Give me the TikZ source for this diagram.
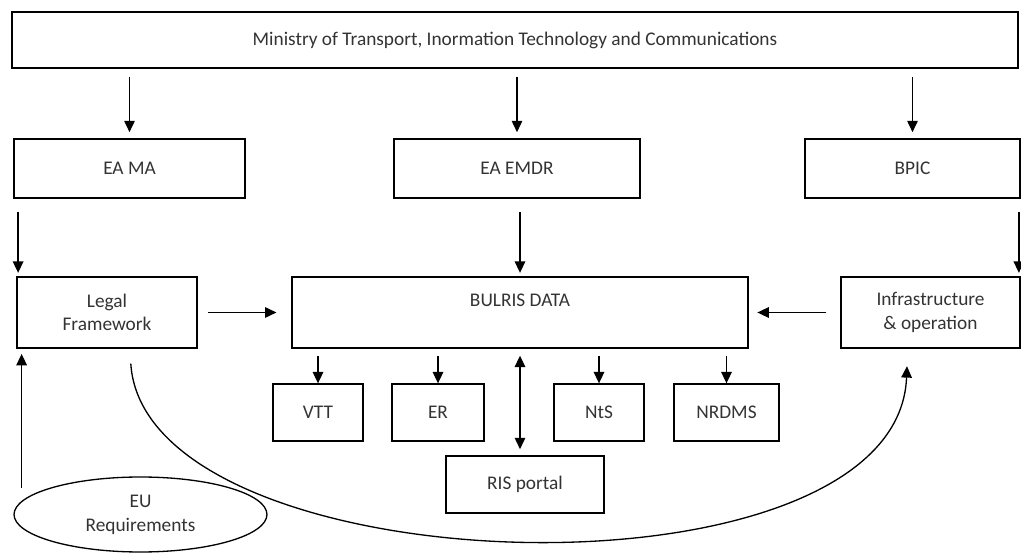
\documentclass[tikz,border=0pt]{standalone}
\usepackage{fontspec}
\setmainfont{Carlito}
\usetikzlibrary{arrows.meta, positioning, shapes.geometric, calc}
\tikzset{
  rect/.style = {
    draw=black,
    rectangle,
    line width=.75pt,
    align=center,
    text=black!80,
    font=\fontsize{11}{13.5}\selectfont,
    minimum height=1.18cm,
  },
  oval/.style = {
    rect,
    ellipse,
    inner sep=0pt,
  },
  has/.style = {
    -{Triangle[length=6.5pt, width=6pt]},
    line width=.75pt,
  },
  mutual/.style = {
    {Triangle[length=6.5pt, width=6pt]}-{Triangle[length=6.5pt, width=6pt]},
    line width=.75pt,
  },
}

\begin{document}
\begin{tikzpicture}[x=0.02cm, y=-0.02cm]
\useasboundingbox (0,0) rectangle (1021,553);

% top level
\node(Ministry)[rect, minimum width=20.12cm, minimum height=1.12cm] at (515,40)
  {Ministry of Transport, Inormation Technology and Communications};

% agencies
\node(EAMA)[rect, minimum width=4.62cm] at (129.5,168.5) {EA MA};
\node(EAEMDR)[rect, minimum width=4.92cm] at (517,168.5) {EA EMDR};
\node(BPIC)[rect, minimum width=4.3cm] at (912.5,168.5) {BPIC};

\draw[has, shorten <=5pt, shorten >=3.5pt] (EAMA.north |- Ministry.south) -- (EAMA.north);
\draw[has, shorten <=5pt, shorten >=3.5pt] (EAEMDR.north |- Ministry.south) -- (EAEMDR.north);
\draw[has, shorten <=5pt, shorten >=3.5pt] (BPIC.north |- Ministry.south) -- (BPIC.north);

% middle row
\node(Legal)[rect, minimum width=3.6cm, minimum height=1.42cm] at (107,312.5) {Legal\\Framework};
\node(Bulris)[rect, minimum width=9.12cm, minimum height=1.42cm] at (520,312.5) {BULRIS DATA\\~};
\node(Infra)[rect, minimum width=3.58cm, minimum height=1.42cm] at (930.5,312.5) {Infrastructure\\\& operation};

\draw[has, shorten <=7.5pt, shorten >=2pt] ([xshift=1pt]Legal.north west |- EAMA.south) -- ([xshift=1pt]Legal.north west);
\draw[has, shorten <=7.5pt, shorten >=2pt] (Bulris.north |- EAEMDR.south) -- (Bulris.north);
\draw[has, shorten <=7.5pt, shorten >=2pt] ([xshift=-1pt]Infra.north east |- BPIC.south) -- ([xshift=-1pt]Infra.north east);

\draw[has, shorten <=6pt, shorten >=8.5pt] (Legal) -- (Bulris);
\draw[has, shorten <=8pt, shorten >=5pt] (Infra) -- (Bulris);

% data services
\node(VTT)[rect, minimum width=1.8cm, minimum height=1.14cm] at (318,412.5) {VTT};
\node(ER)[rect, minimum width=1.84cm, minimum height=1.14cm] at (438,412.5) {ER};
\node(NtS)[rect, minimum width=1.8cm, minimum height=1.14cm] at (599,412.5) {NtS};
\node(NRDMS)[rect, minimum width=2.1cm, minimum height=1.14cm] at (726.5,412.5) {NRDMS};
\node(Portal)[rect, minimum width=3.16cm, minimum height=1.14cm] at (525,484.5) {RIS portal};

\foreach \s in {VTT, ER, NtS, NRDMS}
  \draw[has, shorten <=4pt] (\s.north |- Bulris.south) -- (\s.north);
\draw[mutual, shorten <=4pt, shorten >=3.5pt] (Bulris.south) -- (Bulris.south |- Portal.north);

% requirements
\node(EU)[oval, minimum width=5.06cm, minimum height=1.5cm] at (140.5,514.5) {EU\\Requirements};
\draw[has, shorten >=3pt] ([xshift=3pt]Legal.south west |- EU.north) ++(0,12) -- ([xshift=3pt]Legal.south west);

\draw[has, shorten <=8.5pt, shorten >=10pt]
  ([xshift=13pt]Legal.south) .. controls +(15,240) and +(-10,262) .. ([xshift=-13pt]Infra.south);

\end{tikzpicture}
\end{document}
